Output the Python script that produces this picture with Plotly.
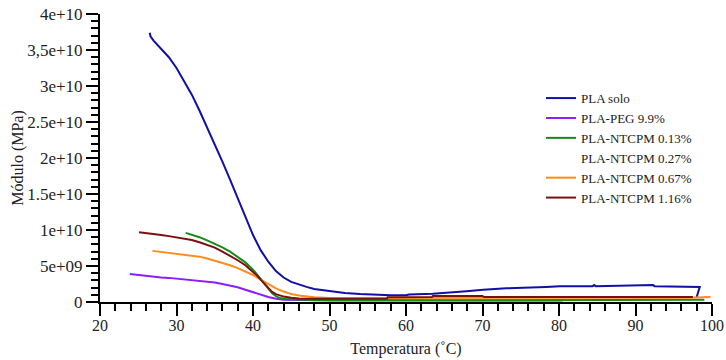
import plotly.graph_objects as go

# ---- data ----
series_names = ["PLA solo", "PLA-PEG 9.9%", "PLA-NTCPM 0.13%",
                "PLA-NTCPM 0.27%", "PLA-NTCPM 0.67%", "PLA-NTCPM 1.16%"]
series_colors = ["#1010a8", "#8b1eff", "#168c16", "rgba(0,0,0,0)", "#ff8c1a", "#7a1010"]

pla_solo_T = [26.5, 26.6, 27.0, 28.0, 29.0, 30.0, 31.0, 32.0, 33.0, 34.0, 35.0, 36.0, 37.0,
              38.0, 39.0, 40.0, 41.0, 42.0, 43.0, 44.0, 45.0, 46.0, 47.0, 48.0, 50.0, 52.0,
              54.0, 56.0, 58.0, 60.0, 60.4, 63.5, 66.1, 67.9, 70.1, 73.1, 78.3, 80.1, 84.4,
              84.6, 84.8, 90.5, 92.3, 92.5, 96.0, 98.4, 98.0]
pla_solo_E = [3.74e10, 3.69e10, 3.63e10, 3.52e10, 3.40e10, 3.25e10, 3.07e10, 2.88e10, 2.66e10,
              2.43e10, 2.19e10, 1.95e10, 1.70e10, 1.44e10, 1.17e10, 0.93e10, 0.72e10, 0.56e10,
              0.43e10, 0.34e10, 0.28e10, 0.24e10, 0.21e10, 0.18e10, 0.15e10, 0.125e10,
              0.11e10, 0.10e10, 0.095e10, 0.095e10, 0.105e10, 0.115e10, 0.13e10, 0.15e10,
              0.17e10, 0.19e10, 0.21e10, 0.22e10, 0.22e10, 0.235e10, 0.22e10, 0.235e10,
              0.235e10, 0.22e10, 0.22e10, 0.21e10, 0.07e10]

peg_T = [23.9, 25.0, 26.0, 27.0, 28.0, 29.0, 30.0, 31.0, 32.0, 33.0, 34.0, 35.0, 36.0, 37.0,
         38.0, 39.0, 40.0, 41.0, 42.0, 43.0, 44.0, 46.0, 50.0, 60.0, 70.0, 80.5]
peg_E = [0.39e10, 0.375e10, 0.36e10, 0.35e10, 0.34e10, 0.335e10, 0.325e10, 0.32e10, 0.31e10,
         0.30e10, 0.285e10, 0.27e10, 0.25e10, 0.23e10, 0.205e10, 0.17e10, 0.135e10, 0.10e10,
         0.07e10, 0.045e10, 0.032e10, 0.028e10, 0.025e10, 0.022e10, 0.02e10, 0.02e10]

n013_T = [31.2, 32.0, 33.0, 34.0, 35.0, 36.0, 37.0, 38.0, 39.0, 40.0, 40.5, 41.0, 41.5, 42.0,
          42.5, 43.0, 43.5, 44.5, 46.0, 48.0, 50.0, 60.0, 80.0, 96.0, 97.0, 99.0]
n013_E = [0.96e10, 0.935e10, 0.90e10, 0.855e10, 0.81e10, 0.76e10, 0.70e10, 0.63e10, 0.55e10,
          0.45e10, 0.39e10, 0.32e10, 0.25e10, 0.18e10, 0.12e10, 0.08e10, 0.055e10, 0.04e10,
          0.03e10, 0.025e10, 0.02e10, 0.02e10, 0.02e10, 0.02e10, 0.03e10, 0.03e10]

n027_T = [None]
n027_E = [None]

n067_T = [26.85, 28.0, 29.0, 30.0, 31.0, 32.0, 33.0, 34.0, 35.0, 36.0, 37.0, 38.0, 39.0, 40.0,
          41.0, 42.0, 43.0, 44.0, 45.0, 46.0, 47.0, 48.0, 50.0, 60.0, 70.0, 80.0, 90.0,
          97.0, 99.8]
n067_E = [0.71e10, 0.695e10, 0.685e10, 0.675e10, 0.665e10, 0.65e10, 0.63e10, 0.605e10,
          0.575e10, 0.545e10, 0.51e10, 0.47e10, 0.42e10, 0.375e10, 0.31e10, 0.245e10,
          0.19e10, 0.145e10, 0.11e10, 0.09e10, 0.075e10, 0.065e10, 0.055e10, 0.055e10,
          0.055e10, 0.05e10, 0.05e10, 0.06e10, 0.07e10]

n116_T = [25.1, 26.0, 27.0, 28.0, 29.0, 30.0, 31.0, 32.0, 33.0, 34.0, 35.0, 36.0, 37.0, 38.0,
          39.0, 40.0, 40.5, 41.0, 41.5, 42.0, 42.5, 43.0, 44.0, 45.0, 46.0, 48.0, 52.0, 57.5,
          57.6, 63.4, 63.5, 70.0, 70.2, 97.5]
n116_E = [0.97e10, 0.96e10, 0.945e10, 0.93e10, 0.915e10, 0.90e10, 0.88e10, 0.86e10, 0.83e10,
          0.795e10, 0.755e10, 0.70e10, 0.645e10, 0.58e10, 0.51e10, 0.42e10, 0.37e10, 0.31e10,
          0.25e10, 0.19e10, 0.14e10, 0.11e10, 0.075e10, 0.058e10, 0.05e10, 0.045e10,
          0.045e10, 0.045e10, 0.065e10, 0.07e10, 0.085e10, 0.085e10, 0.07e10, 0.07e10]

series_T = [pla_solo_T, peg_T, n013_T, n027_T, n067_T, n116_T]
series_E = [pla_solo_E, peg_E, n013_E, n027_E, n067_E, n116_E]

x_tick_vals = [20, 30, 40, 50, 60, 70, 80, 90, 100]
y_tick_vals = [0, 5e9, 1e10, 1.5e10, 2e10, 2.5e10, 3e10, 3.5e10, 4e10]
y_tick_text = ["0", "5e+09", "1e+10", "1.5e+10", "2e+10", "2.5e+10", "3e+10", "3,5e+10", "4e+10"]

FONT = "Liberation Serif, Times New Roman, serif"
TXT = "#222"

fig = go.Figure()
for name, color, T, E in zip(series_names, series_colors, series_T, series_E):
    fig.add_trace(go.Scatter(x=T, y=E, mode="lines", name=name,
                             line=dict(color=color, width=2)))

fig.update_layout(
    width=726, height=360,
    margin=dict(l=100, r=14, t=14, b=58, autoexpand=False),
    paper_bgcolor="white", plot_bgcolor="white",
    font=dict(family=FONT, size=15, color=TXT),
    showlegend=True,
    legend=dict(x=0.7206, y=0.76, xanchor="left", yanchor="top",
                font=dict(family=FONT, size=13, color=TXT),
                bgcolor="rgba(0,0,0,0)", tracegroupgap=0),
)
fig.update_xaxes(
    range=[20, 100], tickmode="array", tickvals=x_tick_vals, automargin=False,
    showline=True, linecolor="black", linewidth=2,
    ticks="outside", ticklen=12, tickwidth=2, tickcolor="black",
    showgrid=False, zeroline=False, ticklabelstandoff=-4, ticklabeloverflow="allow",
    tickfont=dict(family=FONT, size=16, color=TXT),
    minor=dict(ticks="outside", ticklen=7, tickwidth=2, tickcolor="black", dtick=2, tick0=20, showgrid=False),
    title=dict(text="Temperatura (˚C)", font=dict(family=FONT, size=16, color=TXT), standoff=10),
)
fig.update_yaxes(
    range=[0, 4e10], tickmode="array", tickvals=y_tick_vals, ticktext=y_tick_text, automargin=False,
    showline=True, linecolor="black", linewidth=2,
    ticks="outside", ticklen=12, tickwidth=2, tickcolor="black",
    showgrid=False, zeroline=False, ticklabeloverflow="allow",
    tickfont=dict(family=FONT, size=17, color=TXT),
    minor=dict(ticks="outside", ticklen=7, tickwidth=2, tickcolor="black", dtick=1e9, tick0=0, showgrid=False),
    title=dict(text="Módulo (MPa)", font=dict(family=FONT, size=16, color=TXT), standoff=0),
)

# remove the default 8px page margin so the 726x360 figure fills the window exactly
fig.write_html("out.html", config={"displayModeBar": False},
               post_script="document.body.style.margin='0';document.body.style.overflow='hidden';")
